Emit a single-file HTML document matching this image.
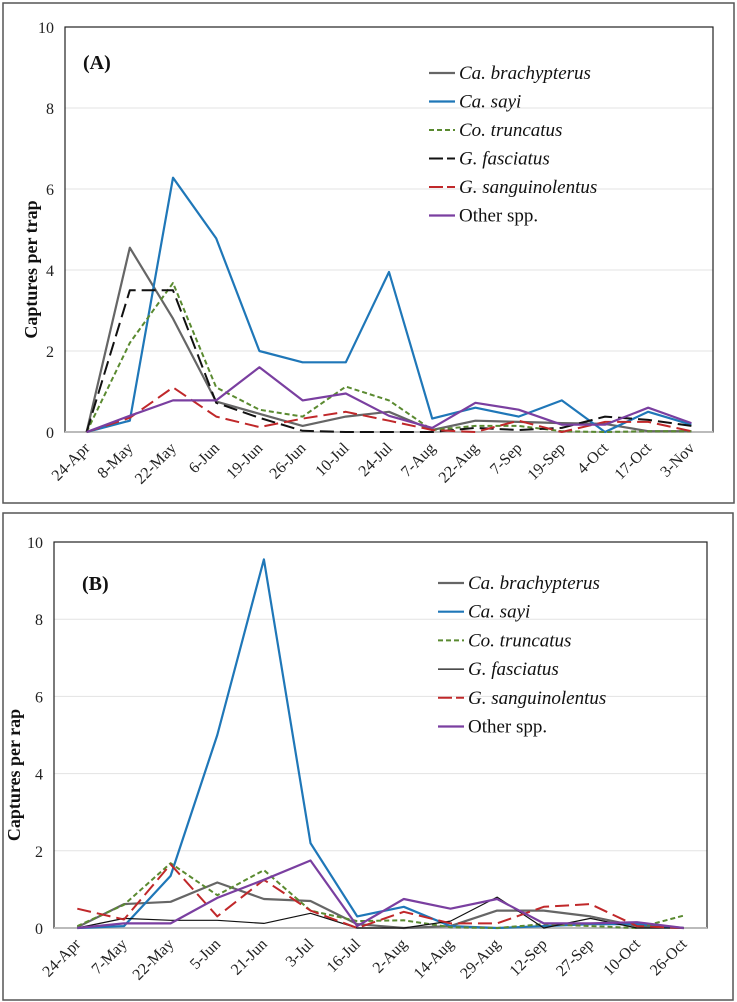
<!DOCTYPE html>
<html><head><meta charset="utf-8"><style>
html,body{margin:0;padding:0;background:#fff;}
svg{display:block;font-family:"Liberation Serif",serif;}
</style></head><body>
<svg id="svg" width="737" height="1002" xmlns="http://www.w3.org/2000/svg">
<rect x="3" y="3" width="731" height="500" fill="none" stroke="#555" stroke-width="1.5"/>
<rect x="3" y="513" width="730" height="487" fill="none" stroke="#555" stroke-width="1.5"/>
<g id="pa"></g>
<g id="pb"></g>
</svg>
<script>
const catsA = ["24-Apr","8-May","22-May","6-Jun","19-Jun","26-Jun","10-Jul","24-Jul","7-Aug","22-Aug","7-Sep","19-Sep","4-Oct","17-Oct","3-Nov"];
const brachA = [0,4.55,2.8,0.75,0.45,0.15,0.38,0.5,0.05,0.28,0.25,0.22,0.2,0.02,0.02];
const sayiA = [0,0.28,6.28,4.78,2.0,1.72,1.72,3.95,0.33,0.6,0.38,0.78,0.0,0.5,0.18];
const truncA = [0,2.2,3.68,1.1,0.55,0.38,1.12,0.78,0.05,0.15,0.15,0.02,0.0,0.02,0.02];
const fascA = [0,3.5,3.5,0.72,0.35,0.03,0,0,0,0.1,0.05,0.1,0.38,0.3,0.15];
const sangA = [0,0.35,1.1,0.38,0.12,0.33,0.5,0.28,0.05,0.0,0.28,0.0,0.25,0.25,0.02];
const otherA = [0,0.4,0.78,0.78,1.6,0.78,0.95,0.4,0.1,0.72,0.55,0.18,0.18,0.6,0.22];

const catsB = ["24-Apr","7-May","22-May","5-Jun","21-Jun","3-Jul","16-Jul","2-Aug","14-Aug","29-Aug","12-Sep","27-Sep","10-Oct","26-Oct"];
const brachB = [0.02,0.62,0.68,1.18,0.75,0.7,0.1,0,0.05,0.45,0.45,0.3,0.05,0];
const sayiB = [0,0.05,1.35,5.0,9.55,2.2,0.3,0.55,0.05,0,0.05,0.1,0.1,0];
const truncB = [0.05,0.6,1.68,0.85,1.5,0.45,0.18,0.2,0.02,0,0.1,0.05,0,0.32];
const fascB = [0,0.25,0.2,0.2,0.12,0.38,0,0,0.18,0.8,0,0.25,0,0];
const sangB = [0.5,0.22,1.65,0.3,1.25,0.45,0,0.42,0.12,0.12,0.55,0.62,0.05,0];
const otherB = [0,0.12,0.12,0.78,1.25,1.75,0.05,0.75,0.5,0.75,0.12,0.12,0.15,0];

const yTicks = [0,2,4,6,8,10];
const names = ["Ca. brachypterus","Ca. sayi","Co. truncatus","G. fasciatus","G. sanguinolentus","Other spp."];

const NS = "http://www.w3.org/2000/svg";
function mk(parent, tag, attrs, text){
  const e = document.createElementNS(NS, tag);
  for (const k in attrs) e.setAttribute(k, attrs[k]);
  if (text !== undefined) e.textContent = text;
  parent.appendChild(e);
  return e;
}

function drawPanel(g, cfg){
  const {left,right,top,bottom,cats,series,styles,label,ylab,ylabX,tickX,legX,legY,legStep,tag} = cfg;
  const n = cats.length;
  const step = (right-left)/n;
  const xs = i => left + step*(i+0.5);
  const ys = v => bottom - (v/10)*(bottom-top);
  yTicks.forEach(t=>{
    if (t>0 && t<10){
      const l = mk(g,"line",{x1:left,x2:right,y1:ys(t),y2:ys(t),stroke:"#e3e3e3","stroke-width":1});
      
      
    }
    const tx = mk(g,"text",{x:tickX,y:ys(t)+6,"text-anchor":"end","font-size":16,fill:"#222"}, String(t));
    
    
  });
  const fr = mk(g,"rect",{x:left,y:top,width:right-left,height:bottom-top,fill:"none",stroke:"#222","stroke-width":1.2});
  
  
  const ax = mk(g,"line",{x1:left,x2:right,y1:bottom,y2:bottom,stroke:"#bbb","stroke-width":2});
  
  
  cats.forEach((c,i)=>{
    const x = xs(i), y = bottom+17;
    const t = mk(g,"text",{x:x+4,y:y,"text-anchor":"end","font-size":16,fill:"#222",transform:`rotate(-45 ${x+4} ${y})`}, c);
    
    
  });
  series.forEach((s,k)=>{
    const st = styles[k];
    const pts = s.map((v,i)=>xs(i).toFixed(1)+","+ys(v).toFixed(1)).join(" ");
    const p = mk(g,"polyline",{points:pts,fill:"none",stroke:st.c,"stroke-width":st.w,"stroke-dasharray":st.d||"none","stroke-linejoin":"round"});
    
    
    const ly = legY + k*legStep;
    const ll = mk(g,"line",{x1:legX,x2:legX+26,y1:ly-6,y2:ly-6,stroke:st.c,"stroke-width":st.w,"stroke-dasharray":st.ld||"none"});
    
    
    const lt = mk(g,"text",{x:legX+30,y:ly,"font-size":19,"font-style":k<5?"italic":"normal",fill:"#111"}, names[k]);
    
    
  });
  const pl = mk(g,"text",{x:label.x,y:label.y,"font-size":20,"font-weight":"bold",fill:"#111"}, label.t);
  
  
  const yl = mk(g,"text",{x:ylabX,y:(top+bottom)/2+40,"font-size":18,"font-weight":"bold","text-anchor":"middle",fill:"#111",transform:`rotate(-90 ${ylabX} ${(top+bottom)/2+40})`}, ylab);
  
  
}

const stA = [{c:"#666",w:2.2},{c:"#1f77b8",w:2.2},{c:"#5a8a30",w:2,d:"5,3",ld:"5,3"},{c:"#111",w:2,d:"14,6",ld:"14,4"},{c:"#c0282a",w:2,d:"14,6",ld:"14,4"},{c:"#7a3fa0",w:2.2}];
const stB = [{c:"#666",w:2.2},{c:"#1f77b8",w:2.2},{c:"#5a8a30",w:2,d:"5,3",ld:"5,3"},{c:"#111",w:1.2},{c:"#c0282a",w:2,d:"14,6",ld:"14,4"},{c:"#7a3fa0",w:2.2}];

drawPanel(document.getElementById("pa"),{left:65,right:713,top:27,bottom:432,cats:catsA,
  series:[brachA,sayiA,truncA,fascA,sangA,otherA],styles:stA,label:{x:83,y:69,t:"(A)"},
  ylab:"Captures per trap",ylabX:37,tickX:54,legX:429,legY:79,legStep:28.5,tag:"a"});
drawPanel(document.getElementById("pb"),{left:54,right:707,top:542,bottom:928,cats:catsB,
  series:[brachB,sayiB,truncB,fascB,sangB,otherB],styles:stB,label:{x:82,y:590,t:"(B)"},
  ylab:"Captures per rap",ylabX:20,tickX:43,legX:438,legY:589,legStep:28.7,tag:"b"});
</script>
</body></html>
